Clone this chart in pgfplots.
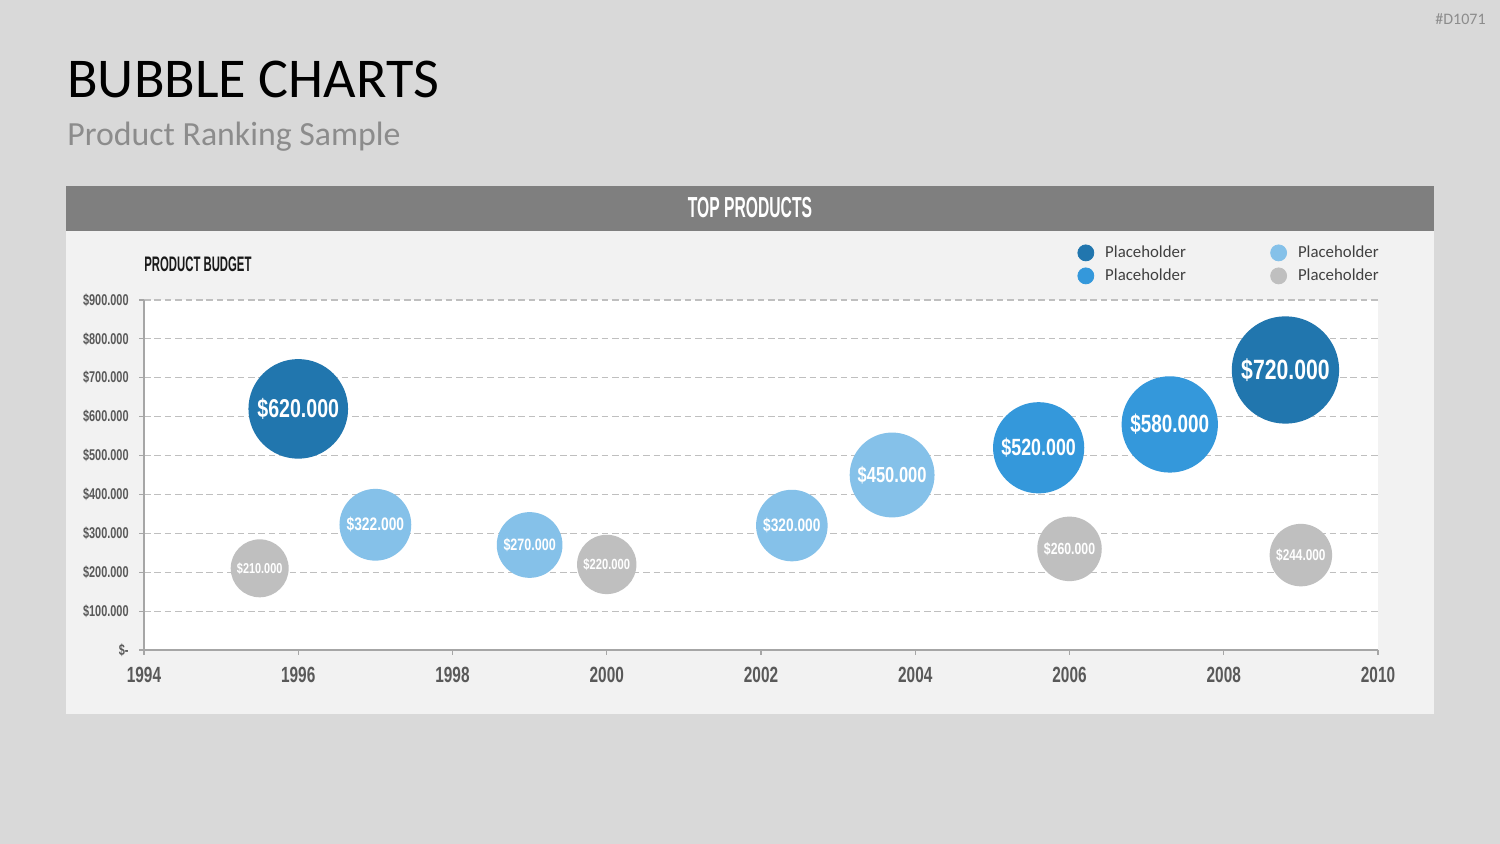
\documentclass[border=0pt]{standalone}
\usepackage{fontspec}
\usepackage{pgfplots}
\pgfplotsset{compat=1.18}
\setmainfont{Carlito}
% condensed faces for headings, ticks and bubble labels
\newfontfamily\headfont{Liberation Sans}[FakeStretch=0.54]
\newfontfamily\tickfont{Liberation Sans}[FakeStretch=0.70]
\newfontfamily\labelfont{Liberation Sans}[FakeStretch=0.76]

\definecolor{pagebg}{HTML}{D9D9D9}
\definecolor{panelbg}{HTML}{F2F2F2}
\definecolor{headbar}{HTML}{7F7F7F}
\definecolor{axisgray}{HTML}{A6A6A6}
\definecolor{gridgray}{HTML}{BFBFBF}
\definecolor{ticktext}{HTML}{595959}
\definecolor{legtext}{HTML}{404040}
\definecolor{subtext}{HTML}{8C8C8C}
\definecolor{cdark}{HTML}{2176AE}
\definecolor{cmid}{HTML}{3498DB}
\definecolor{clight}{HTML}{85C1E9}
\definecolor{cgray}{HTML}{BFBFBF}

% product budgets, in thousands of dollars
\pgfplotstableread{
x y
1996 620
2008.8 720
}\darkdata
\pgfplotstableread{
x y
1997 322
1999 270
2002.4 320
2003.7 450
}\lightdata
\pgfplotstableread{
x y
2005.6 520
2007.3 580
}\middata
\pgfplotstableread{
x y
1995.5 210
2000 220
2006 260
2009 244
}\graydata

% each bubble is a filled circle at its data point:
% radius (pt) = sqrt(budget in thousands), value printed inside
\pgfplotsset{
  bubble/.style={
    only marks, mark=none, color=#1,
    point meta=\thisrow{y},
    visualization depends on={\thisrow{y} \as \raw},
    nodes near coords={\$\pgfmathprintnumber[fixed,precision=0,assume math mode=true]{\raw}.000},
    every node near coord/.append style={anchor=center, circle, fill=#1, draw=none,
      text=white, inner sep=0pt, minimum size={2*sqrt(\raw)*1pt},
      font={\pgfmathsetmacro\fsz{0.55*sqrt(\raw)-0.8}\fontsize{\fsz}{\fsz}\labelfont\bfseries}},
    legend image code/.code={\fill[#1] (4pt,0pt) circle (4pt);},
  },
}

\begin{document}
\begin{tikzpicture}[x=1pt,y=1pt]
% page, panel and header bar
\fill[pagebg] (0,0) rectangle (750,422);
\fill[panelbg] (33,65) rectangle (717,329);
\fill[headbar] (33,306.5) rectangle (717,329);
\node[text=white, inner sep=0pt, font=\fontsize{14.5}{14.5}\headfont\bfseries] at (375,318.25) {TOP PRODUCTS};

% titles
\node[anchor=base west, inner sep=0pt, font=\fontsize{28.1}{28.1}\selectfont, text=black] at (33.5,373.3) {BUBBLE CHARTS};
\node[anchor=base west, inner sep=0pt, font=\fontsize{16.9}{16.9}\selectfont, text=subtext] at (33.5,349) {Product Ranking Sample};
\node[anchor=base east, inner sep=0pt, font=\fontsize{8}{8}\selectfont, text=subtext] at (743,409.8) {\#D1071};
\node[anchor=base west, inner sep=0pt, font=\fontsize{10.5}{10.5}\headfont\bfseries, text=black!90] at (72,286) {PRODUCT BUDGET};

\begin{axis}[
  at={(72pt,97pt)}, anchor=south west,
  scale only axis, width=617pt, height=175pt,
  xmin=1994, xmax=2010, ymin=0, ymax=900,
  axis x line=bottom, axis y line=left,
  axis line style={-, draw=axisgray, line width=0.6pt},
  axis background/.style={fill=white},
  tick style={draw=axisgray, line width=0.6pt},
  tick align=outside, major tick length=2.5pt,
  xtick={1994,1996,...,2010},
  xticklabels={1994,1996,1998,2000,2002,2004,2006,2008,2010},
  ytick={0,100,...,900},
  yticklabels={\$-,\$100.000,\$200.000,\$300.000,\$400.000,\$500.000,\$600.000,\$700.000,\$800.000,\$900.000},
  xticklabel style={inner sep=0pt, anchor=north, yshift=-6pt, text=ticktext, font=\fontsize{11}{11}\tickfont\bfseries},
  yticklabel style={inner sep=0pt, anchor=east, xshift=-5pt, text=ticktext, font=\fontsize{7.8}{7.8}\tickfont\bfseries},
  ymajorgrids,
  grid style={draw=gridgray, line width=0.6pt, dash pattern=on 3.3pt off 1.9pt},
  clip=false,
  legend columns=2,
  legend cell align=left,
  legend style={at={(0.7561,1.1686)}, anchor=north west, draw=none, fill=none,
    inner sep=0pt, column sep=0pt, row sep=0pt,
    nodes={inner xsep=5.5pt, inner ysep=0pt, text width=77pt, minimum height=11.5pt,
      anchor=west, font=\fontsize{8.4}{8.4}\selectfont, text=legtext}},
]
\addplot[bubble=cdark] table {\darkdata};
\addlegendentry{Placeholder}
\addplot[bubble=clight] table {\lightdata};
\addlegendentry{Placeholder}
\addplot[bubble=cmid] table {\middata};
\addlegendentry{Placeholder}
\addplot[bubble=cgray] table {\graydata};
\addlegendentry{Placeholder}
\end{axis}

\pgfresetboundingbox
\path[use as bounding box] (0,0) rectangle (750,422);
\end{tikzpicture}
\end{document}
